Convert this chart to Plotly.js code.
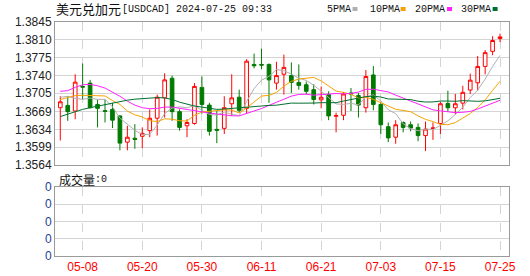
<!DOCTYPE html>
<html><head><meta charset="utf-8">
<script src="https://cdn.plot.ly/plotly-3.0.1.min.js"></script>
<style>html,body{margin:0;padding:0;background:#fff}#chart{width:530px;height:276px}</style>
</head><body><div id="chart"></div>
<script>
const dates = ['05-03','05-06','05-07','05-08','05-09','05-10','05-13','05-14','05-15','05-16',
  '05-17','05-20','05-21','05-22','05-23','05-24','05-27','05-28','05-29','05-30',
  '05-31','06-03','06-04','06-05','06-06','06-07','06-10','06-11','06-12','06-13',
  '06-14','06-17','06-18','06-19','06-20','06-21','06-24','06-25','06-26','06-27',
  '06-28','07-01','07-02','07-03','07-04','07-05','07-08','07-09','07-10','07-11',
  '07-12','07-15','07-16','07-17','07-18','07-19','07-22','07-23','07-24','07-25'];

const open = [1.36766,1.36811,1.36701,1.37184,1.37249,1.36830,1.36708,1.36733,1.36605,1.36089,
  1.36166,1.36205,1.36315,1.36559,1.36959,1.37345,1.36688,1.36411,1.36456,1.37165,
  1.36817,1.36340,1.36360,1.36843,1.36972,1.36753,1.37616,1.37616,1.37616,1.37249,
  1.37423,1.37397,1.37262,1.37217,1.37120,1.36920,1.37023,1.36598,1.36617,1.37055,
  1.37004,1.36766,1.37410,1.36830,1.36392,1.36186,1.36476,1.36431,1.36379,1.36218,
  1.36360,1.36456,1.36849,1.36765,1.36856,1.37113,1.37255,1.37577,1.37873,1.38125];
const high = [1.36991,1.36991,1.37423,1.37635,1.37313,1.36927,1.36927,1.36862,1.36617,1.36411,
  1.36443,1.36379,1.36733,1.37023,1.37442,1.37397,1.36733,1.36540,1.37249,1.37378,
  1.36862,1.36701,1.36991,1.37423,1.37120,1.37719,1.37829,1.37925,1.37635,1.37668,
  1.37809,1.37655,1.37616,1.37281,1.37229,1.37184,1.37088,1.36669,1.37075,1.37152,
  1.37055,1.37507,1.37584,1.36862,1.36476,1.36521,1.36495,1.36495,1.36456,1.36495,
  1.36475,1.36881,1.37100,1.37036,1.37197,1.37435,1.37783,1.37899,1.38170,1.38221];
const low = [1.36121,1.36508,1.36540,1.36927,1.36753,1.36379,1.36476,1.36366,1.35928,1.35928,
  1.35960,1.35973,1.36186,1.36218,1.36572,1.36508,1.36315,1.36186,1.36431,1.36650,
  1.36218,1.36070,1.36250,1.36605,1.36669,1.36650,1.37539,1.37519,1.36862,1.37120,
  1.37023,1.37055,1.37120,1.37023,1.36830,1.36753,1.36521,1.36282,1.36521,1.36701,
  1.36572,1.36669,1.36714,1.36250,1.36089,1.36057,1.36282,1.36302,1.36108,1.35915,
  1.36134,1.36250,1.36688,1.36636,1.36733,1.37036,1.37100,1.37422,1.37796,1.38054];
const close = [1.36882,1.36688,1.37268,1.37171,1.36766,1.36753,1.36695,1.36521,1.36070,1.36186,
  1.36141,1.36263,1.36559,1.36972,1.37313,1.36688,1.36379,1.36476,1.37184,1.36830,
  1.36302,1.36321,1.36766,1.36959,1.36714,1.37680,1.37590,1.37603,1.37313,1.37397,
  1.37558,1.37262,1.37204,1.37088,1.36927,1.36972,1.36605,1.36611,1.37036,1.37036,
  1.36817,1.37378,1.36830,1.36431,1.36173,1.36431,1.36379,1.36366,1.36218,1.36347,
  1.36366,1.36843,1.36765,1.36843,1.37068,1.37307,1.37577,1.37848,1.38086,1.38157];

const ma5Lead = [1.3697,1.3699,1.3695,1.3693];
const ma10Lead = [1.36927,1.36972,1.37004,1.3701,1.3701,1.3701,1.36997,1.36907,1.3683];
const ma20Lead = [1.37088,1.37101,1.37165,1.37217,1.37223,1.37197,1.37152,1.37075,1.36991,1.36894,
  1.36817,1.36766,1.36746,1.36753,1.36778,1.36778,1.36753,1.36727,1.36701];
const ma30Lead = [1.36592,1.36637,1.36695,1.36733,1.36766,1.36798,1.3683,1.36862,1.36894,1.36914,
  1.36933,1.36946,1.36959,1.36965,1.36959,1.36927,1.36875,1.3683,1.36798,1.36778,
  1.36753,1.36733,1.3674,1.36753,1.36766,1.36778,1.36791,1.36804,1.36811];

const xTickLabels = ['05-08','05-20','05-30','06-11','06-21','07-03','07-15','07-25'];
const yTickLabels = ['1.3564','1.3599','1.3634','1.3669','1.3705','1.3740','1.3775','1.3810','1.3845'];
const volTickVals = [0,1,2,3,4];
const volTickLabels = ['0','0','0','0','0'];
const volume = [0];

const titleName = '美元兑加元';
const titleCode = '[USDCAD] 2024-07-25 09:33';
const volName = '成交量';
const volValue = ':0';

function movingAverage(n, lead) {
  return close.map((c, i) => {
    if (i < lead.length) return lead[i];
    let s = 0;
    for (let k = i - n + 1; k <= i; k++) s += close[k];
    return s / n;
  });
}

const maDefs = [
  {name: '5PMA', n: 5, lead: ma5Lead, color: '#b0b0b0'},
  {name: '10PMA', n: 10, lead: ma10Lead, color: '#f5a300'},
  {name: '20PMA', n: 20, lead: ma20Lead, color: '#ff22ff'},
  {name: '30PMA', n: 30, lead: ma30Lead, color: '#006f2e'}
];

const traces = maDefs.map(d => ({
  type: 'scatter', mode: 'lines', x: dates, y: movingAverage(d.n, d.lead),
  line: {color: d.color, width: 1}, hoverinfo: 'skip', xaxis: 'x', yaxis: 'y', showlegend: false
}));

traces.push({
  type: 'candlestick', x: dates, open: open, high: high, low: low, close: close,
  increasing: {line: {color: '#ff0000', width: 1}, fillcolor: '#ffffff'},
  decreasing: {line: {color: '#007a00', width: 1}, fillcolor: '#007a00'},
  whiskerwidth: 0, xaxis: 'x', yaxis: 'y', showlegend: false, hoverinfo: 'skip'
});

traces.push({
  type: 'scatter', mode: 'markers', x: [dates[0]], y: volume,
  marker: {opacity: 0}, xaxis: 'x2', yaxis: 'y2', showlegend: false, hoverinfo: 'skip'
});

const L = 55, R = 21, T = 22, B = 20, W = 530, H = 276;
const pw = W - L - R, ph = H - T - B;
const px = x => (x - L) / pw;
const py = y => (H - B - y) / ph;

const gridCol = '#d4d4d4';
const borderCol = '#9a9a9a';
const xRange = [-0.71, 60.2];
const cjkFont = {family: 'Noto Sans CJK SC, sans-serif', size: 13, color: '#111'};
const monoFont = {family: 'Liberation Mono, monospace', size: 10, color: '#111'};

function label(x, y, text, font) {
  return {xref: 'paper', yref: 'paper', x: px(x), y: py(y), xanchor: 'left', yanchor: 'middle',
    showarrow: false, text: text, font: font};
}

const annotations = [
  label(54, 9, titleName, cjkFont),
  label(120, 9.5, titleCode, monoFont),
  label(57, 179, volName, {family: 'Noto Sans CJK SC, sans-serif', size: 12, color: '#111'}),
  label(93, 179.5, volValue, monoFont)
];
const legendPos = [325, 367.5, 412.8, 459];
const squarePos = [352.5, 400.6, 447, 492.6];
const shapes = [];
maDefs.forEach((d, i) => {
  annotations.push(label(legendPos[i], 9.5, d.name, monoFont));
  shapes.push({type: 'rect', xref: 'paper', yref: 'paper', x0: px(squarePos[i]), x1: px(squarePos[i] + 5),
    y0: py(11), y1: py(7), fillcolor: d.color, line: {width: 0}});
});

const layout = {
  width: W, height: H,
  margin: {l: L, r: R, t: T, b: B},
  paper_bgcolor: '#fff', plot_bgcolor: '#fff',
  showlegend: false,
  xaxis: {type: 'category', range: xRange, domain: [0, 1], anchor: 'y', tickvals: xTickLabels,
    showticklabels: false, showgrid: true, gridcolor: gridCol, griddash: 'dash', gridwidth: 1,
    showline: true, mirror: true, linecolor: borderCol, linewidth: 1, ticks: '', zeroline: false,
    rangeslider: {visible: false}, fixedrange: true},
  yaxis: {domain: [py(165), 1], range: [1.3564, 1.3845], anchor: 'x',
    tickvals: yTickLabels.map(Number), ticktext: yTickLabels,
    tickfont: {family: 'Liberation Sans, Arial, sans-serif', size: 12, color: '#222'},
    showgrid: true, gridcolor: gridCol, gridwidth: 1, showline: true, mirror: true,
    linecolor: borderCol, linewidth: 1, ticks: '', zeroline: false, fixedrange: true},
  xaxis2: {type: 'category', matches: 'x', range: xRange, domain: [0, 1], anchor: 'y2', tickvals: xTickLabels,
    tickfont: {family: 'Liberation Sans, Arial, sans-serif', size: 12, color: '#ff0000'},
    showgrid: true, gridcolor: gridCol, griddash: 'dash', gridwidth: 1,
    showline: true, mirror: true, linecolor: borderCol, linewidth: 1, ticks: '', zeroline: false, fixedrange: true},
  yaxis2: {domain: [0, py(187)], range: [0, 4], anchor: 'x2', tickvals: volTickVals, ticktext: volTickLabels,
    tickfont: {family: 'Liberation Sans, Arial, sans-serif', size: 12, color: '#1f3f8f'},
    showgrid: true, gridcolor: gridCol, gridwidth: 1, showline: true, mirror: true,
    linecolor: borderCol, linewidth: 1, ticks: '', zeroline: false, fixedrange: true},
  annotations: annotations,
  shapes: shapes
};

Plotly.newPlot('chart', traces, layout, {staticPlot: true, displayModeBar: false});
</script>
</body></html>
